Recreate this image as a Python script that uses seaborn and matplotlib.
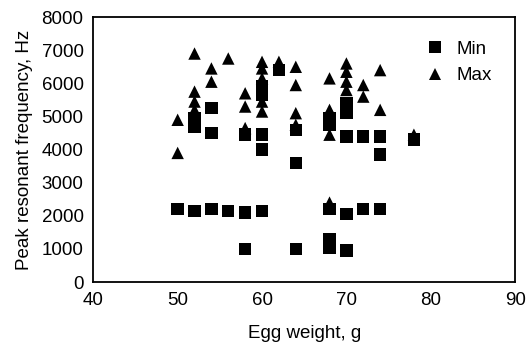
import numpy as np
import pandas as pd
import matplotlib
matplotlib.use("Agg")
import matplotlib.pyplot as plt
import seaborn as sns

# Min peak resonant frequency (Hz) by egg weight (g)
min_weight = [50, 52, 52, 52, 54, 54, 54, 56, 58, 58, 58,
              60, 60, 60, 60, 60, 62, 64, 64, 64,
              68, 68, 68, 68, 68, 70, 70, 70, 70, 70,
              72, 72, 74, 74, 74, 78]
min_freq = [2200, 4950, 4700, 2150, 5250, 4500, 2200, 2150, 4450, 2100, 1000,
            5900, 5650, 4450, 4000, 2150, 6400, 4600, 3600, 1000,
            4950, 4750, 2200, 1300, 1050, 5400, 5100, 4400, 2050, 950,
            4400, 2200, 4400, 3850, 2200, 4300]

# Max peak resonant frequency (Hz) by egg weight (g)
max_weight = [50, 50, 52, 52, 52, 52, 54, 54, 56, 58, 58, 58,
              60, 60, 60, 60, 60, 62, 64, 64, 64, 64,
              68, 68, 68, 68, 70, 70, 70, 70, 72, 72, 74, 74, 78]
max_freq = [4900, 3900, 6900, 5750, 5450, 5200, 6450, 6050, 6750, 5700, 5300, 4650,
            6650, 6450, 6150, 5450, 5150, 6650, 6500, 5950, 5100, 4750,
            6150, 5200, 4450, 2400, 6600, 6350, 6050, 5800, 5950, 5600, 6400, 5200, 4450]

x_ticks = [40, 50, 60, 70, 80, 90]
y_ticks = [0, 1000, 2000, 3000, 4000, 5000, 6000, 7000, 8000]

df = pd.DataFrame({
    "weight": min_weight + max_weight,
    "freq": min_freq + max_freq,
    "series": ["Min"] * len(min_weight) + ["Max"] * len(max_weight),
})

sns.set_style("white")
plt.rcParams["font.family"] = ["Liberation Sans", "DejaVu Sans"]
plt.rcParams["text.color"] = "black"
plt.rcParams["axes.labelcolor"] = "black"
plt.rcParams["xtick.color"] = "black"
plt.rcParams["ytick.color"] = "black"

fig, ax = plt.subplots(figsize=(5.3, 3.64), dpi=100)
fig.subplots_adjust(left=0.176, right=0.972, top=0.953, bottom=0.225)

sns.scatterplot(
    data=df, x="weight", y="freq", hue="series", style="series",
    markers={"Min": "s", "Max": "^"},
    palette={"Min": "black", "Max": "black"},
    s=80, edgecolor="none", linewidth=0, ax=ax, legend=True,
)

ax.set_xlim(40, 90)
ax.set_ylim(0, 8000)
ax.set_xticks(x_ticks)
ax.set_yticks(y_ticks)
ax.tick_params(direction="in", length=3, width=0.8, labelsize=13.5, pad=7)
ax.set_xlabel("Egg weight, g", fontsize=13.5, labelpad=12)
ax.set_ylabel("Peak resonant frequency, Hz", fontsize=13.5, labelpad=6)
for sp in ax.spines.values():
    sp.set_color("black")
    sp.set_linewidth(1.3)

leg = ax.legend(loc="upper right", bbox_to_anchor=(0.975, 0.96), frameon=False,
                fontsize=13.5, handletextpad=0.1, labelspacing=0.5,
                markerscale=0.95, borderaxespad=0.3)

fig.savefig("out.png", dpi=100)
